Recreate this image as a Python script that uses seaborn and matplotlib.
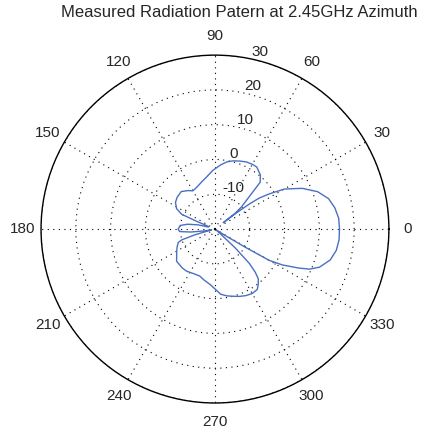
import numpy as np
import pandas as pd
import matplotlib
matplotlib.use("Agg")
import matplotlib.pyplot as plt
import seaborn as sns

# measured azimuth pattern (dB)
angle_deg = [0, 5, 10, 15, 20, 25, 30, 33, 35, 36, 37, 37.5, 38, 40, 43, 46, 50, 56, 60, 65,
             70, 75, 80, 85, 92, 100, 105, 110, 115, 120, 125, 132, 140, 146, 152, 156, 157,
             158, 163, 166, 170, 174, 180, 184, 187, 190, 193, 196, 198, 200, 205, 210, 220,
             230, 236, 245, 252, 258, 265, 270, 275, 280, 285, 290, 295, 300, 305, 308, 311,
             313, 315, 317, 319, 321, 325, 328, 329, 330, 332, 335, 337, 340, 345, 350, 355,
             360]
gain_db = [15.8, 15.7, 15.0, 13.8, 11.4, 7.7, 3.0, -1.5, -4.5, -7.5, -12.0, -17.0, -12.5,
           -10.0, -7.0, -1.3, 0.3, 1.5, 1.5, 1.3, 0.8, 0.3, -0.4, -1.5, -3.1, -5.0, -5.8,
           -6.5, -7.0, -7.3, -6.5, -5.5, -5.8, -6.3, -7.5, -9.5, -14.0, -18.0, -18.0, -15.0,
           -12.0, -10.0, -9.4, -9.8, -13.0, -17.0, -19.0, -14.0, -10.0, -8.8, -8.0, -7.3,
           -5.6, -5.4, -5.4, -5.8, -5.8, -5.0, -4.0, -2.8, -1.2, -0.5, 0.0, 0.6, 1.1, 1.4,
           1.2, 0.2, -1.0, -3.0, -6.0, -12.0, -18.0, -19.5, -19.5, -16.0, -10.0, -2.0, 2.0,
           6.5, 9.5, 12.0, 14.3, 15.4, 15.8, 15.8]
r_ticks = [-10, 0, 10, 20, 30]
theta_ticks = list(range(0, 360, 30))

df = pd.DataFrame({"theta": np.deg2rad(angle_deg), "gain": gain_db})

sns.set_style("white")
plt.rcParams["font.family"] = ["Liberation Sans", "DejaVu Sans"]

fig = plt.figure(figsize=(4.29, 4.30), dpi=100)
ax = fig.add_axes([0.0956, 0.0628, 0.811, 0.809], projection="polar")

sns.lineplot(data=df, x="theta", y="gain", sort=False, estimator=None,
             color="#4a70c2", linewidth=1.0, ax=ax)

ax.set_ylim(-20, 30)
ax.set_yticks(r_ticks)
ax.set_yticklabels([str(v) for v in r_ticks], fontsize=11)
ax.set_rlabel_position(78)
ax.set_thetagrids(theta_ticks, [str(t) for t in theta_ticks], fontsize=11)
ax.tick_params(axis="x", pad=3)
ax.grid(True, color="black", linestyle=(0, (1, 4)), linewidth=0.8)
ax.spines["polar"].set_color("black")
ax.spines["polar"].set_linewidth(1.0)
ax.set_xlabel("")
ax.set_ylabel("")

fig.text(0.557, 0.972, "Measured Radiation Patern at 2.45GHz Azimuth",
         ha="center", va="center", fontsize=12)

fig.savefig("out.png", dpi=100)
